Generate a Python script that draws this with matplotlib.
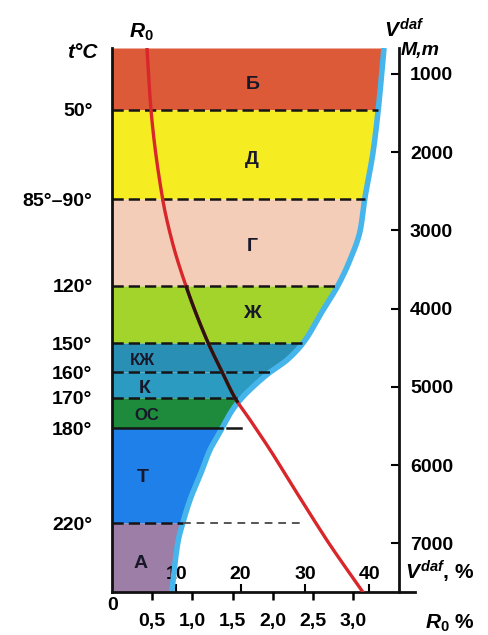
import numpy as np
import matplotlib.pyplot as plt

plt.rcParams['font.family'] = ['Liberation Sans', 'DejaVu Sans']
plt.rcParams['font.weight'] = 'bold'
plt.rcParams['mathtext.fontset'] = 'custom'
plt.rcParams['mathtext.it'] = 'Liberation Sans:italic:bold'
plt.rcParams['mathtext.rm'] = 'Liberation Sans:bold'
plt.rcParams['mathtext.bf'] = 'Liberation Sans:bold'

# глубина, м
top_depth = 670
bottom_depth = 7620
bound_depth = [1460, 2600, 3710, 4440, 4810, 5140, 5530, 6740]
bound_temp = ['50°', '85°–90°', '120°', '150°', '160°', '170°', '180°', '220°']

# стадии углефикации
zone_names = ['Б', 'Д', 'Г', 'Ж', 'КЖ', 'К', 'ОС', 'Т', 'А']
zone_colors = ['#dc5a38', '#f6ec22', '#f4cdb8', '#a3d42c', '#2a8fb4',
               '#2b9bc2', '#1d8a3c', '#1f80ea', '#9c7ea6']

# выход летучих V daf, %
vdaf_depth = [670, 1460, 2000, 2600, 3000, 3380, 3710, 4020, 4440, 4657,
              4810, 4977, 5140, 5297, 5530, 5810, 6065, 6450, 6740, 6960, 7620]
vdaf_vals = [42.3, 41.4, 40.6, 39.3, 38.6, 37.0, 35.1, 32.8, 29.7, 27.2,
             24.6, 22.2, 20.2, 18.7, 17.1, 15.2, 14.0, 12.1, 11.0, 10.3, 9.3]

# отражательная способность витринита R0, %
r0_depth = [670, 1460, 2600, 3150, 3710, 4400, 4810, 5140, 5425, 5810,
            6256, 6730, 6985, 7620]
r0_vals = [0.435, 0.485, 0.63, 0.75, 0.92, 1.18, 1.37, 1.53, 1.72, 1.97,
           2.24, 2.53, 2.69, 3.12]

depth_ticks = [1000, 2000, 3000, 4000, 5000, 6000, 7000]
vdaf_ticks = [10, 20, 30, 40]
r0_ticks = [0.5, 1.0, 1.5, 2.0, 2.5, 3.0]
r0_labels = ['0,5', '1,0', '1,5', '2,0', '2,5', '3,0']

W, H = 489, 635


def px(x, y):
    return x / W, 1 - y / H


def smooth(xk, yk, x):
    # монотонная кубическая кривая через точки (только для отрисовки)
    xk = np.asarray(xk, float)
    yk = np.asarray(yk, float)
    h = np.diff(xk)
    delta = np.diff(yk) / h
    m = np.zeros_like(yk)
    for k in range(1, len(xk) - 1):
        if delta[k - 1] * delta[k] > 0:
            w1 = 2 * h[k] + h[k - 1]
            w2 = h[k] + 2 * h[k - 1]
            m[k] = (w1 + w2) / (w1 / delta[k - 1] + w2 / delta[k])
    m[0] = delta[0]
    m[-1] = delta[-1]
    x = np.asarray(x, float)
    i = np.clip(np.searchsorted(xk, x) - 1, 0, len(h) - 1)
    t = (x - xk[i]) / h[i]
    return ((2 * t**3 - 3 * t**2 + 1) * yk[i] + (t**3 - 2 * t**2 + t) * h[i] * m[i]
            + (-2 * t**3 + 3 * t**2) * yk[i + 1] + (t**3 - t**2) * h[i] * m[i + 1])


fig = plt.figure(figsize=(W / 100, H / 100), dpi=100)
x0, y1 = px(112, 592)
x1, y0 = px(415, 48)
ax = fig.add_axes([x0, y1, x1 - x0, y0 - y1])
ax.set_xlim(0, 47.12)
ax.set_ylim(bottom_depth, top_depth)

# зоны
tops = [top_depth] + bound_depth
bots = bound_depth + [bottom_depth]
for t, b, c in zip(tops, bots, zone_colors):
    d = np.linspace(t, b, 100)
    ax.fill_betweenx(d, 0, smooth(vdaf_depth, vdaf_vals, d), color=c, lw=0)

dd = np.linspace(top_depth, bottom_depth, 600)
ax.plot(smooth(vdaf_depth, vdaf_vals, dd), dd, color='#45b5ec', lw=4,
        solid_capstyle='butt')

# границы
for d in bound_depth:
    xe = float(smooth(vdaf_depth, vdaf_vals, [d])[0])
    if d == 5530:
        ax.plot([0, xe], [d, d], color='#151515', lw=1.8)
        ax.plot([xe + 0.8, xe + 3.0], [d, d], color='#151515', lw=1.8)
    else:
        ax.plot([0, xe], [d, d], color='#151515', lw=1.8, dashes=(4.5, 2))
    if d == 6740:
        ax.plot([xe, 30.0], [d, d], color='#555555', lw=1.4, dashes=(4, 3))

label_x = [21.9, 21.8, 21.8, 21.8, 4.8, 5.1, 5.4, 4.8, 4.4]
label_y = [1140, 2100, 3212, 4056, 4657, 5015, 5360, 6153, 7253]
for name, lx, ly in zip(zone_names, label_x, label_y):
    fs = 14 if len(name) == 1 else 12
    ax.text(lx, ly, name, ha='center', va='center', fontsize=fs,
            color='#18182a')

for s in ['top', 'right']:
    ax.spines[s].set_visible(False)
for s in ['left', 'bottom']:
    ax.spines[s].set_linewidth(2)
    ax.spines[s].set_color('#111111')

ax.set_yticks(bound_depth)
ax.set_yticklabels(bound_temp)
ax.tick_params(axis='y', length=0, pad=14, labelsize=14)
ax.set_xticks(vdaf_ticks)
ax.tick_params(axis='x', direction='in', length=6, width=1.5, pad=-19,
               labelsize=14)

# R0
axr = ax.twiny()
axr.set_xlim(0, 3.769)
rr = smooth(r0_depth, r0_vals, dd)
axr.plot(rr, dd, color='#d8262a', lw=2.4)
dark = (dd >= 3710) & (dd <= 5190)
axr.plot(rr[dark], dd[dark], color='#2a1410', lw=2.4)
for s in axr.spines.values():
    s.set_visible(False)
axr.xaxis.set_ticks_position('bottom')
axr.set_xticks(r0_ticks)
axr.set_xticklabels(r0_labels)
axr.tick_params(axis='x', direction='out', length=6, width=1.8, pad=9,
                labelsize=14)

# глубина
ax2 = ax.twinx()
ax2.set_ylim(bottom_depth, top_depth)
for s in ['top', 'left', 'bottom']:
    ax2.spines[s].set_visible(False)
ax2.spines['right'].set_position(('data', 44.6))
ax2.spines['right'].set_linewidth(2)
ax2.spines['right'].set_color('#111111')
ax2.set_yticks(depth_ticks)
ax2.tick_params(axis='y', direction='in', length=6, width=1.5, pad=8,
                labelsize=14)

# подписи
fig.text(*px(82, 52), 't°C', ha='center', va='center', fontsize=15,
         fontstyle='italic')
fig.text(*px(141, 32), r'$R_0$', ha='center', va='center', fontsize=15)
fig.text(*px(384, 30), r'$V^{daf}$', ha='left', va='center', fontsize=15)
fig.text(*px(420, 50), 'M,m', ha='center', va='center', fontsize=14,
         fontstyle='italic')
fig.text(*px(113, 606), '0', ha='center', va='center', fontsize=14)
fig.text(*px(405, 572), r'$V^{daf}$, %', ha='left', va='center', fontsize=15)
fig.text(*px(425, 623), r'$R_0$ %', ha='left', va='center', fontsize=15)

fig.savefig('out.png', dpi=100)
